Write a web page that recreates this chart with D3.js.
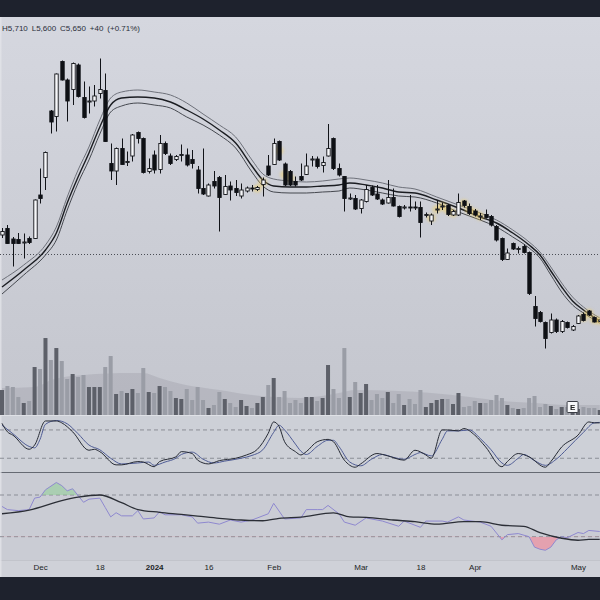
<!DOCTYPE html>
<html><head><meta charset="utf-8">
<script src="https://cdn.jsdelivr.net/npm/d3@7"></script>
<style>html,body{margin:0;padding:0;background:#1e222d;}svg{display:block}</style>
</head><body>
<svg id="c" width="600" height="600"></svg>
<script>
// ---------- DATA ----------
const openP  = [7350,7480,7270,7260,7200,7280,7280,8150,8500,9830,9720,10820,10450,10260,10750,10100,10020,10030,10180,10240,8780,8630,9080,8810,8930,9400,9280,8620,8950,8660,9180,8930,8860,8940,8950,8860,8650,8280,8130,8420,8500,8160,8330,8280,8130,8230,8290,8260,8360,8730,8760,9220,8770,8620,8420,8520,8560,8850,8870,8740,8930,9280,8680,8520,8080,8080,7880,8020,8300,8170,8050,7990,8100,7920,7900,7910,7910,7900,7750,7630,7860,7920,7940,7750,7750,8030,7920,7830,7720,7760,7720,7520,7280,6860,7180,7070,7120,7000,5920,5800,5600,5400,5650,5420,5600,5450,5580,5760,5830,5700,5620];
const highP  = [7490,7550,7310,7390,7380,7320,8060,8680,9020,9850,10580,10840,10480,10800,10780,10420,10320,10350,10880,10580,9180,9100,9280,9020,9370,9420,9300,8880,9040,9350,9220,8980,8950,9160,9080,9050,8730,9080,8380,8630,8530,8550,8420,8450,8380,8320,8350,8330,8500,8950,9280,9240,8800,8650,8520,8780,8980,8930,8920,8920,9570,9300,8780,8530,8180,8150,8070,8350,8340,8350,8080,8450,8280,7940,7950,8150,8020,8020,7800,7780,8050,8000,7970,7850,8180,8050,7980,7870,7790,7860,7750,7550,7300,7080,7200,7120,7160,7020,6130,5830,5620,5780,5680,5650,5620,5550,5750,5800,5850,5720,5710];
const lowP   = [7290,7170,6720,7170,6880,7170,7270,7980,8250,9380,9420,10440,9620,9950,10100,9680,9780,9920,10080,9210,8450,8350,8750,8730,8820,9180,8580,8580,8580,8580,8950,8750,8830,8820,8720,8680,8180,8150,8120,8280,7420,8150,8040,8130,8080,8200,8220,8230,8120,8530,8750,8830,8330,8330,8320,8430,8550,8720,8680,8600,8920,8650,8520,7820,8050,7850,7780,8000,8130,8050,7950,7980,7920,7700,7860,7820,7850,7300,7700,7550,7780,7850,7730,7730,7730,7900,7750,7720,7650,7680,7520,7220,6830,6850,7050,6980,6980,6150,5520,5600,5080,5380,5390,5390,5480,5430,5570,5620,5730,5600,5600];
const closeP = [7420,7180,7180,7180,7210,7200,8050,8080,9000,9610,10570,10450,10030,10780,10120,9700,10030,10130,10260,9220,8630,9080,8760,8820,9350,9280,8600,8680,8650,9180,8980,8780,8920,8960,8750,8780,8280,8170,8350,8330,8100,8320,8250,8200,8250,8290,8280,8300,8450,8550,9180,8850,8350,8350,8350,8450,8730,8870,8720,8800,9080,8680,8550,8080,8090,7870,8050,8260,8150,8070,7970,8100,7930,7720,7910,7900,7900,7600,7760,7750,7870,7930,7760,7820,8000,7940,7780,7750,7730,7700,7550,7250,6860,6990,7070,7080,7000,6180,5680,5620,5280,5650,5420,5620,5500,5520,5730,5640,5750,5610,5650];
const volume = [300,348,336,216,144,168,576,552,924,660,804,648,432,492,456,480,336,336,336,576,708,252,288,264,312,264,564,276,264,348,336,288,204,192,312,180,336,180,84,120,276,192,144,96,180,108,84,144,216,360,444,216,288,144,180,144,216,216,168,204,600,312,204,804,216,396,264,372,180,252,204,276,144,252,120,192,132,300,96,144,180,192,192,132,264,96,108,168,144,144,180,240,204,120,84,72,84,204,228,96,132,108,72,96,96,108,72,96,84,84,60];

// volume moving average (read at sample bars)
const volMaIdx = [0,6,8,9,15,24,26,29,33,40,46,55,62,65,73,79,86,92,98,104,110];
const volMaVal = [324,336,384,420,480,504,504,444,372,300,240,204,264,300,288,264,216,168,144,120,120];

// moving-average band (upper / middle / lower), read at sample bars
const bandIdx   = [0,4,8,10,12,14,16,18,20,22,25,28,31,34,37,40,43,46,48,50,53,56,59,62,64,67,70,73,76,80,84,88,91,94,97,99,101,103,105,107,110];
const bandUpper = [6450,6750,7150,7510,8110,8650,9110,9650,10090,10210,10250,10210,10150,9990,9770,9550,9310,8850,8570,8470,8430,8410,8430,8470,8490,8450,8390,8310,8270,8110,7950,7790,7650,7450,7210,7010,6710,6390,6110,5910,5690];
const bandMid   = [6310,6650,7050,7390,7990,8510,8990,9510,9950,10090,10110,10090,10010,9850,9670,9450,9190,8730,8450,8330,8310,8310,8330,8350,8390,8350,8290,8210,8190,8050,7890,7710,7590,7390,7150,6950,6630,6310,6030,5850,5630];
const bandLower = [6170,6550,6950,7250,7850,8390,8850,9370,9810,9930,9990,9950,9890,9710,9550,9350,9090,8610,8330,8210,8190,8190,8210,8230,8290,8250,8190,8130,8110,7990,7810,7650,7510,7310,7090,6890,6550,6210,5950,5790,5590];

// bars where price touches the band (yellow marks)
const touchBars = [47,48,51,52,53,79,80,81,82,83,85,86,87,88,107,108,109,110];

const refLevel = 6970;

// stochastic
const stochKIdx = [0,1,2,5,6,8,10,11,13,16,17,18,21,22,25,26,28,29,32,33,35,36,38,40,43,45,47,49,50,51,52,54,55,56,58,60,61,63,65,66,69,71,74,76,78,79,81,82,84,85,87,89,92,93,95,97,100,101,103,106,108,109,110];
const stochKVal = [94,76,69,39,48,99,99,95,76,37,39,34,6,6,13,12,2,13,23,34,30,16,8,15,20,27,39,73,97,87,55,34,27,34,55,60,55,16,1,8,30,25,16,37,27,20,80,80,78,83,69,44,2,13,30,23,1,13,44,69,97,95,95];
const stochDIdx = [0,2,5,6,7,8,10,12,14,16,18,20,22,25,27,28,30,32,33,35,37,39,41,44,46,48,50,51,52,54,55,56,58,60,61,62,64,66,68,70,72,74,76,77,79,81,82,84,86,88,90,92,93,95,96,98,100,102,104,107,109,110];
const stochDVal = [90,72,45,42,60,92,100,93,72,48,38,20,8,10,12,5,12,20,28,33,18,10,14,20,26,38,75,90,80,50,35,28,45,58,58,45,12,4,18,28,22,18,28,32,25,60,78,78,80,62,38,10,5,20,28,15,5,18,40,75,95,96];
const stochLevels = [80,20];

// RSI
const rsiIdx = [0,1,3,5,6,7,8,10,11,12,13,15,16,18,19,20,21,22,24,25,26,28,29,30,33,35,36,38,40,42,44,46,49,50,52,55,56,58,59,60,62,63,65,67,70,73,74,77,78,81,82,84,85,88,90,92,93,95,97,98,99,100,101,102,103,104,106,107,108,110];
const rsiVal = [59,56,55,56,67,68,75,82,79,74,76,63,66,67,58,49,53,50,50,55,47,48,54,51,51,49,43,44,42,46,44,46,52,62,47,48,56,56,56,60,52,44,41,48,45,40,45,39,45,45,44,49,46,44,40,27,32,33,30,20,18,17,20,27,30,29,34,33,36,35];
const rsiMaIdx = [0,5,11,14,18,22,25,29,33,36,40,44,48,51,55,61,64,67,72,76,80,85,88,92,96,99,103,106,108,110];
const rsiMaVal = [52,55.6,64.6,67.9,70,62.6,56,53.4,51.4,49.8,47.6,46,45.3,47.6,48.8,52.9,49,48.5,46,44.4,42,44.4,44.4,41,39.9,34,28.5,26.6,27.5,27.5];
const rsiLevels = [70,30];

// time axis
const tickIdx = [7,18,28,38,50,66,77,87,106];
const tickLabels = ["Dec","18","2024","16","Feb","Mar","18","Apr","May"];

const legend = ["H5,710","L5,600","C5,650","+40","(+0.71%)"];
const earningsBar = 105;

// ---------- LAYOUT ----------
const svg = d3.select('#c');
const defs = svg.append('defs');
const FONT = "'Liberation Sans', Arial, sans-serif";

const g1 = defs.append('linearGradient').attr('id','mainBg').attr('x1',0).attr('y1',0).attr('x2',0).attr('y2',1);
g1.append('stop').attr('offset','0%').attr('stop-color','#d5d7df');
g1.append('stop').attr('offset','100%').attr('stop-color','#c4c6ce');
const blur = defs.append('filter').attr('id','glow').attr('x','-50%').attr('y','-50%').attr('width','200%').attr('height','200%');
blur.append('feGaussianBlur').attr('stdDeviation',1.6);

const mainTop = 17, mainBot = 415;
const stTop = 416, stBot = 472;
const rsTop = 473, rsBot = 560;
const axBot = 577;

svg.append('rect').attr('x',0).attr('y',0).attr('width',600).attr('height',600).attr('fill','#1e222d');
svg.append('rect').attr('x',0).attr('y',mainTop).attr('width',600).attr('height',mainBot-mainTop).attr('fill','url(#mainBg)');
svg.append('rect').attr('x',0).attr('y',stTop).attr('width',600).attr('height',stBot-stTop).attr('fill','#cdd0d7');
svg.append('rect').attr('x',0).attr('y',rsTop).attr('width',600).attr('height',rsBot-rsTop).attr('fill','#caccd4');
svg.append('rect').attr('x',0).attr('y',rsBot).attr('width',600).attr('height',axBot-rsBot).attr('fill','#cfd1d8');
// separators
svg.append('line').attr('x1',0).attr('x2',600).attr('y1',415.5).attr('y2',415.5).attr('stroke','#dfe1e6').attr('stroke-width',1);
svg.append('line').attr('x1',0).attr('x2',600).attr('y1',472.5).attr('y2',472.5).attr('stroke','#666a73').attr('stroke-width',1);
svg.append('line').attr('x1',0).attr('x2',600).attr('y1',560.5).attr('y2',560.5).attr('stroke','#c2c4cb').attr('stroke-width',1);
svg.append('rect').attr('x',0).attr('y',mainTop).attr('width',1.5).attr('height',axBot-mainTop).attr('fill','#e2e4e9').attr('opacity',0.8);

// ---------- SCALES ----------
const x = d3.scaleLinear().domain([0,110]).range([2, 2+5.434*110]);
const y = d3.scaleLinear().domain([5000,11000]).range([352.5,52.5]);
const yVol = d3.scaleLinear().domain([0,1000]).range([415,331.7]);
const yStoch = d3.scaleLinear().domain([0,100]).range([467.7,420.5]);
const yRsi = d3.scaleLinear().domain([30,70]).range([536.7,495]);

const bars = d3.range(openP.length).map(i => ({i, o:openP[i], h:highP[i], l:lowP[i], c:closeP[i], v:volume[i]}));

// ---------- VOLUME ----------
const main = svg.append('g');
const volMa = volMaIdx.map((d,k)=>({i:d, v:volMaVal[k]}));
main.append('path').datum(volMa)
  .attr('d', d3.area().x(d=>x(d.i)).y0(yVol(0)).y1(d=>yVol(d.v)).curve(d3.curveMonotoneX))
  .attr('fill','#8e919b').attr('opacity',0.28);
const vw = 4;
main.selectAll('rect.vol').data(bars).join('rect').attr('class','vol')
  .attr('x', d=>x(d.i)-vw/2).attr('width', vw)
  .attr('y', d=>yVol(d.v)).attr('height', d=>yVol(0)-yVol(d.v))
  .attr('fill', d=> d.c>=d.o ? '#5d6069' : '#9a9da6');

// ---------- REF LINE ----------
main.append('line').attr('x1',0).attr('x2',600).attr('y1',Math.round(y(refLevel))+0.5).attr('y2',Math.round(y(refLevel))+0.5)
  .attr('stroke','#4a4d55').attr('stroke-width',1).attr('stroke-dasharray','1,2');

// ---------- BAND ----------
const bandLine = arr => d3.line().x((d,k)=>x(bandIdx[k])).y(d=>y(d)).curve(d3.curveMonotoneX)(arr);
main.append('path').attr('d', bandLine(bandUpper)).attr('fill','none').attr('stroke','#6e717a').attr('stroke-width',1);
main.append('path').attr('d', bandLine(bandLower)).attr('fill','none').attr('stroke','#45484f').attr('stroke-width',1);
main.append('path').attr('d', bandLine(bandMid)).attr('fill','none').attr('stroke','#1b1d22').attr('stroke-width',1.4);

// touch highlights
main.append('g').attr('filter','url(#glow)').selectAll('ellipse').data(touchBars).join('ellipse')
  .attr('cx', i=>x(i)).attr('cy', i=>y((openP[i]+closeP[i])/2))
  .attr('rx',4.5).attr('ry',4).attr('fill','#f2cf5b').attr('opacity',0.5);

// ---------- CANDLES ----------
const bw = 3.4;
const cg = main.append('g');
cg.selectAll('line.wick').data(bars).join('line').attr('class','wick')
  .attr('x1', d=>Math.round(x(d.i))+0.5).attr('x2', d=>Math.round(x(d.i))+0.5)
  .attr('y1', d=>y(d.h)).attr('y2', d=>y(d.l)).attr('stroke','#111318').attr('stroke-width',1);
cg.selectAll('rect.body').data(bars).join('rect').attr('class','body')
  .attr('x', d=>Math.round(x(d.i))+0.5-bw/2).attr('width', bw)
  .attr('y', d=>y(Math.max(d.o,d.c))).attr('height', d=>Math.max(1, Math.abs(y(d.o)-y(d.c))))
  .attr('fill', d=> d.c>=d.o ? '#f7f8fa' : '#0e1014')
  .attr('stroke','#111318').attr('stroke-width',0.9);

// earnings marker
const ex = x(earningsBar);
svg.append('rect').attr('x',ex-5.5).attr('y',401.5).attr('width',11).attr('height',11)
  .attr('fill','#f6f7f9').attr('stroke','#3a3d45').attr('stroke-width',1).attr('rx',1);
svg.append('text').attr('x',ex).attr('y',410).attr('text-anchor','middle')
  .attr('font-family',FONT).attr('font-size',8).attr('font-weight','bold').attr('fill','#222').text('E');

// ---------- STOCHASTIC ----------
const st = svg.append('g');
stochLevels.forEach(l=>{
  st.append('line').attr('x1',0).attr('x2',600).attr('y1',yStoch(l)).attr('y2',yStoch(l))
    .attr('stroke','#8b8e97').attr('stroke-width',1).attr('stroke-dasharray','4,3');
});
const kLine = d3.line().x((d,k)=>x(stochKIdx[k])).y(d=>yStoch(d)).curve(d3.curveMonotoneX);
const dLine = d3.line().x((d,k)=>x(stochDIdx[k])).y(d=>yStoch(d)).curve(d3.curveMonotoneX);
st.append('path').attr('d', dLine(stochDVal)).attr('fill','none').attr('stroke','#4e5b94').attr('stroke-width',1);
st.append('path').attr('d', kLine(stochKVal)).attr('fill','none').attr('stroke','#262a34').attr('stroke-width',1);

// ---------- RSI ----------
const rs = svg.append('g');
rsiLevels.forEach(l=>{
  rs.append('line').attr('x1',0).attr('x2',600).attr('y1',yRsi(l)).attr('y2',yRsi(l))
    .attr('stroke','#8b8e97').attr('stroke-width',1).attr('stroke-dasharray','4,3');
});
const rsiPts = rsiIdx.map((d,k)=>({i:d, v:rsiVal[k]}));
defs.append('clipPath').attr('id','above70').append('rect').attr('x',0).attr('y',rsTop).attr('width',600).attr('height',yRsi(70)-rsTop);
defs.append('clipPath').attr('id','below30').append('rect').attr('x',0).attr('y',yRsi(30)).attr('width',600).attr('height',rsBot-yRsi(30));
rs.append('path').datum(rsiPts).attr('clip-path','url(#above70)')
  .attr('d', d3.area().x(d=>x(d.i)).y0(yRsi(70)).y1(d=>yRsi(d.v)))
  .attr('fill','#8fcf96').attr('opacity',0.55);
rs.append('path').datum(rsiPts).attr('clip-path','url(#below30)')
  .attr('d', d3.area().x(d=>x(d.i)).y0(yRsi(30)).y1(d=>yRsi(d.v)))
  .attr('fill','#ef8f9f').attr('opacity',0.7);
rs.append('path').datum(rsiPts).attr('d', d3.line().x(d=>x(d.i)).y(d=>yRsi(d.v)))
  .attr('fill','none').attr('stroke','#8e88cf').attr('stroke-width',1);
const rsiMa = rsiMaIdx.map((d,k)=>({i:d, v:rsiMaVal[k]}));
rs.append('path').datum(rsiMa).attr('d', d3.line().x(d=>x(d.i)).y(d=>yRsi(d.v)).curve(d3.curveMonotoneX))
  .attr('fill','none').attr('stroke','#2b2e36').attr('stroke-width',1.3);

// ---------- TIME AXIS ----------
const axis = d3.axisBottom(x).tickValues(tickIdx).tickFormat((d,k)=>tickLabels[k]).tickSize(0).tickPadding(0);
const ag = svg.append('g').attr('transform','translate(0,564)').call(axis);
ag.select('.domain').remove();
ag.selectAll('text').attr('font-family',FONT).attr('font-size',8).attr('fill','#1c1f26')
  .attr('font-weight',(d,k)=> tickLabels[k]==='2024' ? 'bold' : 'normal');

// ---------- LEGEND ----------
const legX = [2,31.7,60.1,89.8,107.3];
svg.append('g').selectAll('text').data(legend).join('text')
  .attr('x',(d,k)=>legX[k]).attr('y',30.5)
  .attr('font-family',FONT).attr('font-size',8).attr('fill','#2a2e39').text(d=>d);
</script>
</body></html>
